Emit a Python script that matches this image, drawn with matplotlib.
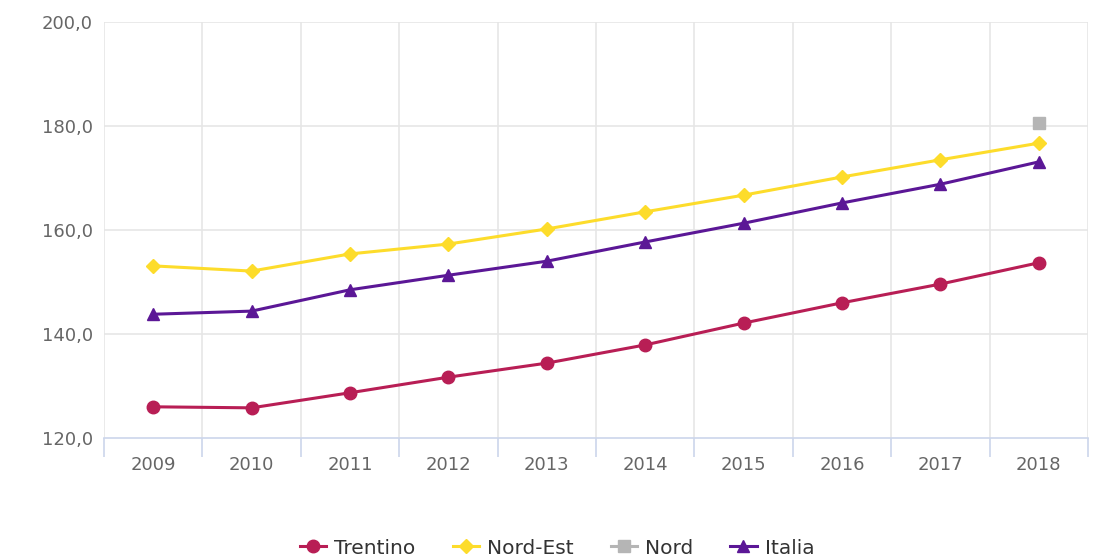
import matplotlib
matplotlib.use("Agg")
import matplotlib.pyplot as plt
from matplotlib.lines import Line2D

years = ["2009", "2010", "2011", "2012", "2013", "2014", "2015", "2016", "2017", "2018"]
trentino = [126.0, 125.8, 128.7, 131.7, 134.4, 137.9, 142.1, 146.0, 149.6, 153.7]
nord_est = [153.1, 152.1, 155.4, 157.3, 160.2, 163.5, 166.7, 170.2, 173.5, 176.7]
nord = [None, None, None, None, None, None, None, None, None, 180.6]
italia = [143.8, 144.4, 148.5, 151.3, 154.0, 157.7, 161.3, 165.2, 168.8, 173.1]
y_ticks = [120, 140, 160, 180, 200]

c_tr = "#B81E55"
c_ne = "#FDDC2B"
c_no = "#B5B5B5"
c_it = "#5B1796"

plt.rcParams['font.family'] = ['DejaVu Sans']

fig = plt.figure(figsize=(10.97, 5.6), dpi=100)
ax = fig.add_axes([104/1097, 1 - 438/560, (1088-104)/1097, (438-22)/560])

x = list(range(len(years)))
ax.plot(x, trentino, color=c_tr, lw=2.2, marker='o', ms=9, zorder=3, label="Trentino")
ax.plot(x, nord_est, color=c_ne, lw=2.2, marker='D', ms=7, zorder=3, label="Nord-Est")
xn = [i for i, v in enumerate(nord) if v is not None]
yn = [v for v in nord if v is not None]
ax.plot(xn, yn, color=c_no, lw=2.2, marker='s', ms=8, ls='none', zorder=3, label="Nord")
ax.plot(x, italia, color=c_it, lw=2.2, marker='^', ms=9, zorder=3, label="Italia")

ax.set_xlim(-0.5, len(years) - 0.5)
ax.set_ylim(120, 200)
ax.set_yticks(y_ticks)
ax.set_yticklabels([f"{v:.1f}".replace(".", ",") for v in y_ticks])
ax.set_xticks(x)
ax.set_xticklabels(years)

for sp in ['top', 'right', 'left']:
    ax.spines[sp].set_visible(False)
ax.spines['bottom'].set_color('#ccd6eb')
ax.spines['bottom'].set_linewidth(1.2)

# gridlines
for v in y_ticks[1:]:
    ax.axhline(v, color='#e6e6e6', lw=1.2, zorder=0)
for b in range(len(years) + 1):
    ax.axvline(b - 0.5, color='#e6e6e6', lw=1.2, zorder=0)

ax.tick_params(axis='y', length=0, labelsize=13, labelcolor='#666666', pad=8)
ax.tick_params(axis='x', which='major', length=0, labelsize=13, labelcolor='#666666', pad=13)
ax.set_xticks([b - 0.5 for b in range(len(years) + 1)], minor=True)
ax.tick_params(axis='x', which='minor', length=14, width=1.2, color='#ccd6eb')

handles = [
    Line2D([], [], color=c_tr, lw=2.2, marker='o', ms=9),
    Line2D([], [], color=c_ne, lw=2.2, marker='D', ms=7),
    Line2D([], [], color=c_no, lw=2.2, marker='s', ms=8),
    Line2D([], [], color=c_it, lw=2.2, marker='^', ms=9),
]
leg = fig.legend(handles, ["Trentino", "Nord-Est", "Nord", "Italia"], loc='center',
                 bbox_to_anchor=(557/1097, 1 - 548/560), ncol=4, frameon=False,
                 fontsize=14.5, handlelength=1.3, columnspacing=1.85, handletextpad=0.4)
for t in leg.get_texts():
    t.set_color('#333333')

fig.savefig("out.png", dpi=100)
